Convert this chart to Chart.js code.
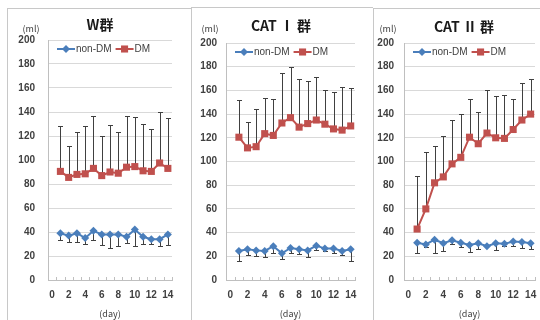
<!DOCTYPE html>
<html>
<head>
<meta charset="utf-8">
<script src="https://cdn.jsdelivr.net/npm/chart.js@4.4.0/dist/chart.umd.min.js"></script>
<style>
  body { margin: 0; background: #fff; width: 540px; height: 320px; position: relative; overflow: hidden; }
  .panel { position: absolute; border-left: 1px solid #c8c8c8; border-top: 1px solid #c8c8c8; }
  .panel canvas { display: block; }
</style>
</head>
<body>
<div class="panel" style="left:7px;top:8px;"><canvas id="chartW" width="183" height="311"></canvas></div>
<div class="panel" style="left:191px;top:7px;"><canvas id="chartC1" width="181" height="312"></canvas></div>
<div class="panel" style="left:373px;top:8px;"><canvas id="chartC2" width="166" height="311"></canvas></div>
<script>
// Données
const days = [1, 2, 3, 4, 5, 6, 7, 8, 9, 10, 11, 12, 13, 14];
const xTickValues = [0, 2, 4, 6, 8, 10, 12, 14];
const seriesNames = ['non-DM', 'DM'];
const panelTitles = ['W群', 'CAT Ⅰ 群', 'CAT Ⅱ 群'];
const yUnit = '(ml)';
const xUnit = '(day)';

// W群
const wNonDM   = [39, 37, 39, 35, 41, 38, 38, 38, 36, 42, 36, 34, 34, 38];
const wNonDMSd = [6, 5, 7.5, 5, 8, 9, 11, 10, 5, 14, 6, 4, 6, 9];
const wDM      = [90.5, 85.5, 88, 88.5, 93, 87, 90, 89, 94, 94.5, 91, 90.5, 97.5, 93];
const wDMSd    = [37.5, 26.5, 35, 39.5, 44, 33, 39, 34, 43, 41.5, 39, 35, 42.5, 42];

// CAT I 群
const c1NonDM   = [24.5, 26, 25, 24.5, 28.5, 22.5, 27, 26, 25, 29, 26.5, 26.5, 24.5, 26];
const c1NonDMSd = [8.5, 5, 4.5, 5.5, 6, 4.5, 4, 4, 5.5, 4, 2, 3.5, 3.5, 10];
const c1DM      = [120.5, 111.5, 112.5, 123.5, 122, 132.5, 137, 129, 132, 135, 131.5, 127.5, 126.5, 130];
const c1DMSd    = [31.5, 21.5, 31.5, 30.5, 31, 42, 43, 41, 36, 36, 28.5, 31.5, 36, 32];

// CAT II 群
const c2NonDM   = [31.5, 30, 34, 31, 33.5, 31.5, 29.5, 31, 28.5, 31, 30.5, 32.5, 32, 31];
const c2NonDMSd = [8.5, 2, 11, 6.5, 3.5, 3.5, 6, 5, 0, 6, 1.5, 3.5, 5, 5];
const c2DM      = [43, 60, 82, 87, 98, 103.5, 120.5, 115, 124, 120, 119.5, 127, 135, 140];
const c2DMSd    = [45, 48, 31.5, 34.5, 37, 36.5, 32, 26.5, 36.5, 35.5, 36.5, 25.5, 31.5, 29.5];

const BLUE = '#4a7ebb';
const RED = '#c0504d';
const TEXT = '#404040';
const FONT = '"Liberation Sans", Arial, sans-serif';

/**
 * Barres d'erreur, légende, titre et unités
 */
const decorPlugin = {
  id: 'decor',
  beforeDatasetsDraw(chart) {
    const ctx = chart.ctx;
    const xs = chart.scales.x, ys = chart.scales.y;
    ctx.save();
    ctx.strokeStyle = '#404040';
    ctx.lineWidth = 1;
    chart.data.datasets.forEach(ds => {
      ds.data.forEach((p, i) => {
        const sd = ds.errSd[i];
        if (!sd) return;
        const end = ds.errDir === 'up' ? p.y + sd : p.y - sd;
        const px = Math.round(xs.getPixelForValue(p.x)) + 0.5;
        const y0 = ys.getPixelForValue(p.y);
        const y1 = Math.round(ys.getPixelForValue(end)) + 0.5;
        ctx.beginPath();
        ctx.moveTo(px, y0);
        ctx.lineTo(px, y1);
        ctx.moveTo(px - 2.5, y1);
        ctx.lineTo(px + 2.5, y1);
        ctx.stroke();
      });
    });
    ctx.restore();
  },
  afterDraw(chart) {
    const ctx = chart.ctx;
    const ca = chart.chartArea;
    const lay = chart.options.plugins.decor;
    const xs = chart.scales.x;
    ctx.save();

    // petites graduations de l'axe des x
    ctx.strokeStyle = '#bfbfbf';
    ctx.lineWidth = 1;
    for (let k = 0; k <= 15; k++) {
      const px = Math.round(xs.getPixelForValue(k - 0.5)) + 0.5;
      ctx.beginPath();
      ctx.moveTo(px, ca.bottom);
      ctx.lineTo(px, ca.bottom - 3);
      ctx.stroke();
    }

    // titre
    ctx.fillStyle = '#1a1a1a';
    ctx.font = 'bold 14px "Noto Sans CJK JP", sans-serif';
    ctx.textAlign = 'center';
    ctx.textBaseline = 'middle';
    ctx.fillText(lay.title, lay.titleX, lay.titleY);

    // unité de l'axe y
    ctx.fillStyle = TEXT;
    ctx.font = '9px "Noto Sans CJK JP", sans-serif';
    ctx.fillText(yUnit, lay.mlX, lay.mlY);

    // légende
    ctx.font = '10px ' + FONT;
    ctx.textAlign = 'left';
    let x = ca.left + 9;
    const y = ca.top + 9;
    chart.data.datasets.forEach(ds => {
      ctx.strokeStyle = ds.borderColor;
      ctx.lineWidth = 2;
      ctx.beginPath();
      ctx.moveTo(x, y);
      ctx.lineTo(x + 18, y);
      ctx.stroke();
      ctx.fillStyle = ds.backgroundColor;
      Chart.helpers.drawPoint(ctx, {
        pointStyle: ds.pointStyle, radius: ds.pointRadius, rotation: 0, borderWidth: 0
      }, x + 9, y);
      ctx.fillStyle = TEXT;
      ctx.fillText(ds.label, x + 19, y + 0.5);
      x += 19 + ctx.measureText(ds.label).width + 4;
    });
    ctx.restore();
  }
};

function toPoints(values) {
  return days.map((d, i) => ({ x: d, y: values[i] }));
}

function makeChart(id, title, nonDM, nonDMSd, dm, dmSd, lay) {
  const ctx = document.getElementById(id).getContext('2d');
  return new Chart(ctx, {
    type: 'line',
    data: {
      datasets: [
        {
          label: seriesNames[0],
          data: toPoints(nonDM),
          errSd: nonDMSd,
          errDir: 'down',
          borderColor: BLUE,
          backgroundColor: BLUE,
          borderWidth: 2,
          pointStyle: 'rectRot',
          pointRadius: 4,
          pointBorderWidth: 0,
          tension: 0
        },
        {
          label: seriesNames[1],
          data: toPoints(dm),
          errSd: dmSd,
          errDir: 'up',
          borderColor: RED,
          backgroundColor: RED,
          borderWidth: 2,
          pointStyle: 'rect',
          pointRadius: 5,
          pointBorderWidth: 0,
          tension: 0
        }
      ]
    },
    options: {
      responsive: false,
      animation: false,
      layout: { padding: { left: 0, top: lay.top, right: lay.right, bottom: 0 } },
      plugins: {
        legend: { display: false },
        title: { display: false },
        tooltip: { enabled: false },
        decor: { title: title, titleX: lay.titleX, titleY: lay.titleY, mlX: lay.mlX, mlY: lay.mlY }
      },
      scales: {
        x: {
          type: 'linear',
          min: -0.5,
          max: 14.5,
          afterBuildTicks: s => { s.ticks = xTickValues.map(v => ({ value: v })); },
          afterFit: s => { s.height = lay.bottom; s.paddingLeft = 0; s.paddingRight = 0; },
          grid: { display: false, drawTicks: false },
          border: { display: true, color: '#bfbfbf', width: 1 },
          ticks: { padding: 9, color: TEXT, font: { family: FONT, size: 10, weight: 'bold' }, maxRotation: 0 },
          title: { display: true, text: xUnit, color: TEXT, font: { family: '"Noto Sans CJK JP", sans-serif', size: 9 }, padding: { top: 0, bottom: 1 } }
        },
        y: {
          min: 0,
          max: 200,
          afterFit: s => { s.width = lay.left; s.paddingTop = 0; s.paddingBottom = 0; },
          grid: { color: '#d9d9d9', drawTicks: false },
          border: { display: true, color: '#bfbfbf', width: 1 },
          ticks: { stepSize: 20, padding: lay.tickPad, color: TEXT, font: { family: FONT, size: 10, weight: 'bold' } }
        }
      }
    },
    plugins: [decorPlugin]
  });
}

makeChart('chartW', panelTitles[0], wNonDM, wNonDMSd, wDM, wDMSd,
  { left: 40, top: 31, right: 19, bottom: 40, titleX: 92, titleY: 16, mlX: 23, mlY: 20, tickPad: 13 });
makeChart('chartC1', panelTitles[1], c1NonDM, c1NonDMSd, c1DM, c1DMSd,
  { left: 34, top: 35, right: 18, bottom: 40, titleX: 89, titleY: 18, mlX: 18, mlY: 21, tickPad: 9 });
makeChart('chartC2', panelTitles[2], c2NonDM, c2NonDMSd, c2DM, c2DMSd,
  { left: 30, top: 34, right: 2, bottom: 40, titleX: 90, titleY: 18, mlX: 14, mlY: 20, tickPad: 10 });
</script>
</body>
</html>
